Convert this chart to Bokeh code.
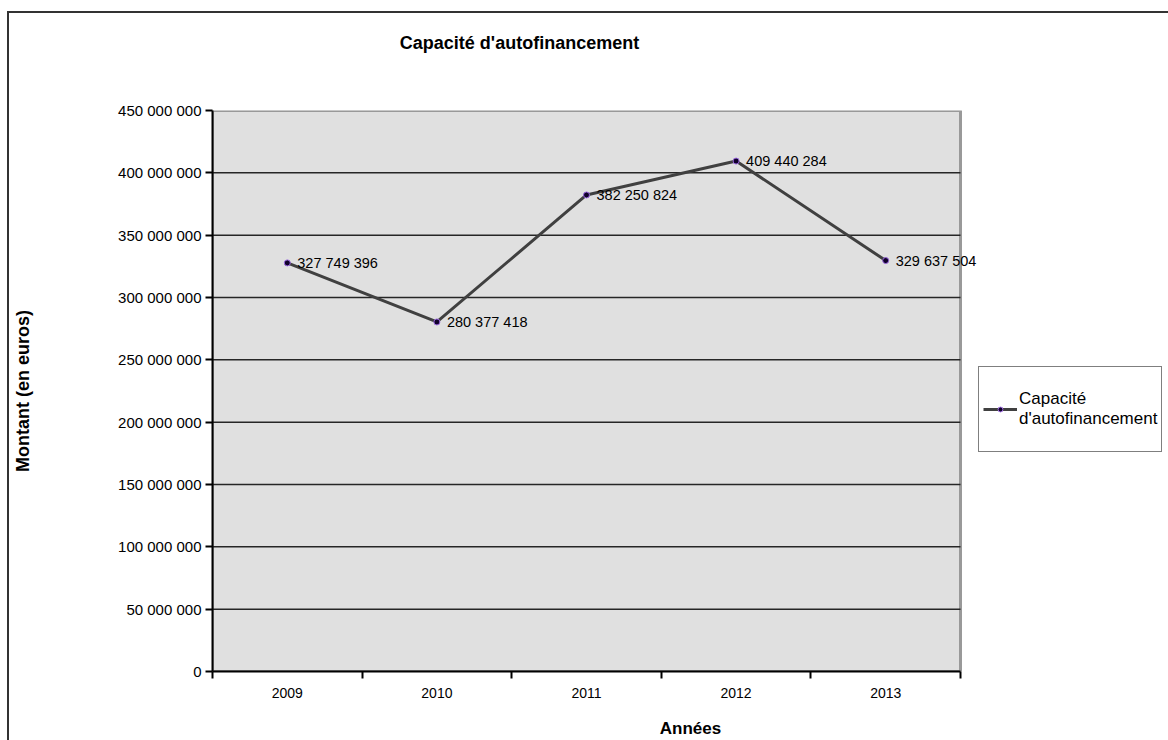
from bokeh.plotting import figure
from bokeh.models import (Range1d, FixedTicker, Label, Legend, LegendItem,
                          ColumnDataSource)
from bokeh.core.properties import value
from bokeh.embed import file_html
from bokeh.resources import INLINE

# ---- data ----
years = ["2009", "2010", "2011", "2012", "2013"]
caf = [327749396, 280377418, 382250824, 409440284, 329637504]
y_ticks = [0, 50000000, 100000000, 150000000, 200000000, 250000000,
           300000000, 350000000, 400000000, 450000000]
title_text = "Capacité d'autofinancement"
series_name = "Capacité\nd'autofinancement"
x_title = "Années"
y_title = "Montant (en euros)"


def fmt(v):
    return f"{v:,}".replace(",", " ")


FONT = "Liberation Sans"
W, H = 1168, 740
# plot-area placement (pixels); the frame extends to the right edge
AREA_L, AREA_R, AREA_T, AREA_B = 212, 960, 110, 672

n = len(years)
xs = [i + 0.5 for i in range(n)]
x_end = n * (W - AREA_L) / (AREA_R - AREA_L)

src = ColumnDataSource(dict(x=xs, y=caf, lbl=[fmt(v) for v in caf]))

p = figure(width=W, height=H, output_backend="svg", toolbar_location=None,
           x_range=Range1d(0, x_end), y_range=Range1d(y_ticks[0], y_ticks[-1]),
           min_border_left=AREA_L, min_border_right=0, min_border_top=AREA_T,
           min_border_bottom=H - AREA_B)
p.background_fill_alpha = 0
p.border_fill_alpha = 0
p.outline_line_color = None
p.styles = {"background": "linear-gradient(#333333, #333333) 7px 11px / 2px 2000px no-repeat, "
                          "linear-gradient(#333333, #333333) 7px 11px / 2000px 2px no-repeat"}

# x axis: labels at centres, tick marks at boundaries
p.xaxis.bounds = (0, n)
p.xaxis.ticker = FixedTicker(ticks=xs, minor_ticks=list(range(n + 1)))
p.xaxis.major_label_overrides = {x: y for x, y in zip(xs, years)}
p.xaxis.major_tick_out = 0
p.xaxis.major_tick_in = 0
p.xaxis.minor_tick_out = 7
p.xaxis.minor_tick_in = 0
p.xaxis.minor_tick_line_color = "black"
p.xaxis.minor_tick_line_width = 2
p.xaxis.axis_line_color = "black"
p.xaxis.axis_line_width = 2
p.xaxis.major_label_standoff = 9
p.xaxis.major_label_text_font = FONT
p.xaxis.major_label_text_font_size = "14px"
p.xaxis.major_label_text_color = "black"
p.xaxis.axis_label = x_title
p.xaxis.axis_label_text_font = FONT
p.xaxis.axis_label_text_font_size = "17px"
p.xaxis.axis_label_text_font_style = "bold"
p.xaxis.axis_label_text_color = "black"
p.xaxis.axis_label_standoff = 18

# y axis
p.yaxis.ticker = FixedTicker(ticks=y_ticks, minor_ticks=[])
p.yaxis.major_label_overrides = {t: fmt(t) for t in y_ticks}
p.yaxis.major_tick_out = 7
p.yaxis.major_tick_in = 0
p.yaxis.major_tick_line_color = "black"
p.yaxis.major_tick_line_width = 2
p.yaxis.axis_line_color = "black"
p.yaxis.axis_line_width = 2
p.yaxis.major_label_standoff = 4
p.yaxis.major_label_text_font = FONT
p.yaxis.major_label_text_font_size = "15px"
p.yaxis.major_label_text_color = "black"
p.yaxis.axis_label = y_title
p.yaxis.axis_label_text_font = FONT
p.yaxis.axis_label_text_font_size = "18px"
p.yaxis.axis_label_text_font_style = "bold"
p.yaxis.axis_label_text_color = "black"
p.yaxis.axis_label_standoff = 82

p.grid.visible = False

# plot area and horizontal grid lines
p.quad(left=0, right=n, bottom=y_ticks[0], top=y_ticks[-1], fill_color="#e0e0e0",
       line_color="#999999", line_width=3)
p.segment(x0=[0] * (len(y_ticks) - 2), x1=[n] * (len(y_ticks) - 2),
          y0=y_ticks[1:-1], y1=y_ticks[1:-1], line_color="#262626", line_width=1.5)

# series
r_line = p.line("x", "y", source=src, line_color="#404040", line_width=3)
r_pts = p.scatter("x", "y", source=src, size=6, fill_color="#10002a",
                  line_color="#9966dd", line_width=1)
p.text("x", "y", text="lbl", source=src, x_offset=10, text_align="left",
       text_baseline="middle", text_font=value(FONT), text_font_size="14.5px",
       text_color="black")

# chart title (in the top panel, so it is not clipped to the frame)
p.add_layout(Label(x=519, y=42, x_units="canvas", y_units="canvas", text=title_text,
                   text_align="center", text_baseline="middle", text_font=FONT,
                   text_font_size="18px", text_font_style="bold", text_color="black"),
             "above")

legend = Legend(items=[LegendItem(label=series_name, renderers=[r_line, r_pts])],
                location=(978 - AREA_L, AREA_B - 453), border_line_color="black",
                border_line_width=1.5, background_fill_color="white",
                background_fill_alpha=1, label_text_font=FONT,
                label_text_font_size="17px", label_text_color="black", padding=4,
                margin=0, glyph_width=34, glyph_height=12, label_standoff=2,
                label_height=76)
p.add_layout(legend)

open("out.html", "w").write(file_html(p, INLINE))
